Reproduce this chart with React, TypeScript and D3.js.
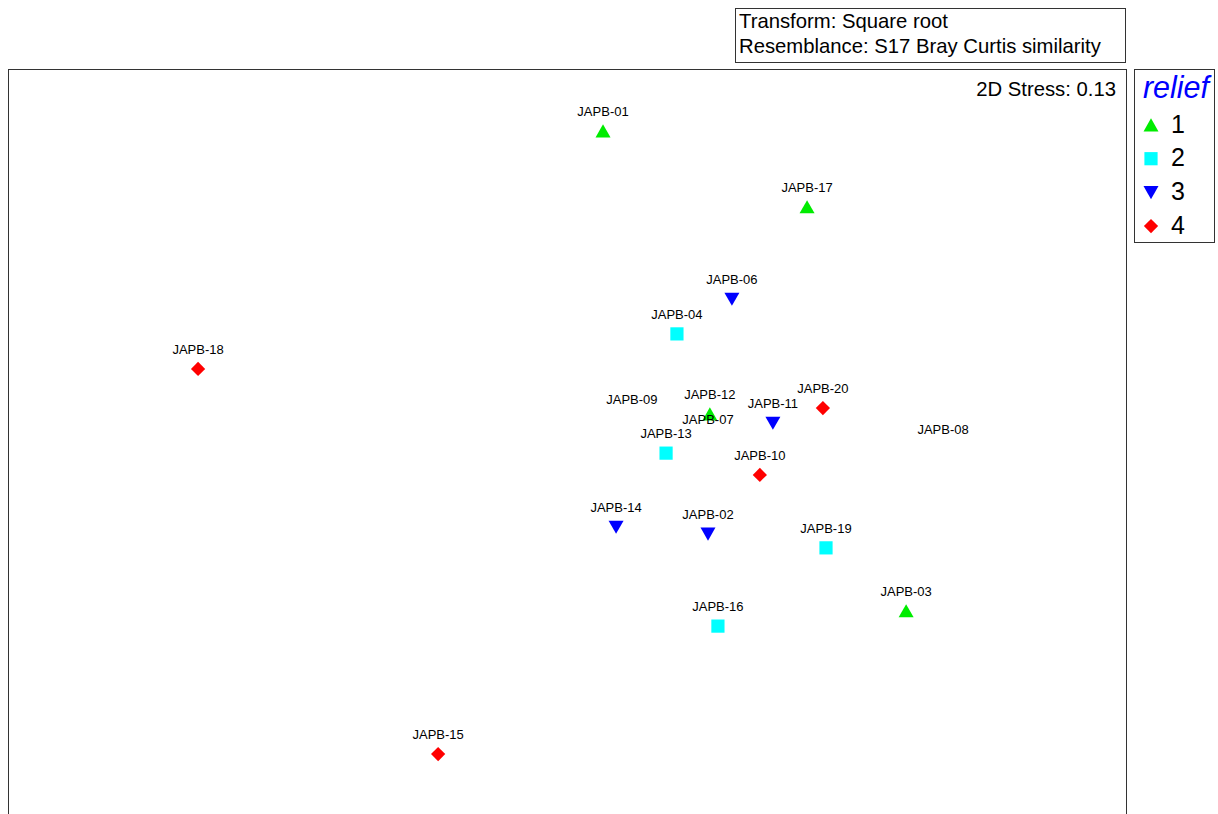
import React from "react";
import * as d3 from "d3";

// nMDS sample ids, coordinates and relief factor (0 = no marker drawn)
const samples = ["JAPB-01", "JAPB-17", "JAPB-06", "JAPB-04", "JAPB-18", "JAPB-12", "JAPB-07", "JAPB-09", "JAPB-11", "JAPB-20", "JAPB-13", "JAPB-10", "JAPB-08", "JAPB-14", "JAPB-02", "JAPB-19", "JAPB-03", "JAPB-16", "JAPB-15"];
const mds1 = [0.116, 0.773, 0.531, 0.354, -1.188, 0.46, 0.454, 0.209, 0.663, 0.824, 0.319, 0.621, 1.211, 0.158, 0.454, 0.834, 1.092, 0.486, -0.415];
const mds2 = [1.0, 0.756, 0.459, 0.347, 0.234, 0.089, 0.009, 0.073, 0.06, 0.108, -0.037, -0.107, -0.024, -0.275, -0.297, -0.342, -0.545, -0.594, -1.006];
const relief = [1, 1, 3, 2, 4, 1, 0, 0, 3, 4, 2, 4, 0, 3, 3, 2, 1, 2, 4];

const levels = [1, 2, 3, 4];
const levelColors = ["#00ec00", "#00ffff", "#0000ff", "#ff0000"];
const infoLines = ["Transform: Square root", "Resemblance: S17 Bray Curtis similarity"];
const stressLabel = "2D Stress: 0.13";
const legendTitle = "relief";

const FONT = "'Liberation Sans', Arial, sans-serif";

function markerPath(level: number, size: number): string {
  const h = size / 2;
  if (level === 1) return `M0,${-h * 0.9}L${h},${h * 0.85}L${-h},${h * 0.85}Z`;
  if (level === 3) return `M0,${h * 0.9}L${h},${-h * 0.85}L${-h},${-h * 0.85}Z`;
  if (level === 2) {
    const s = size * 0.44;
    return `M${-s},${-s}H${s}V${s}H${-s}Z`;
  }
  const d = h * 0.95;
  return `M0,${-d}L${d},0L0,${d}L${-d},0Z`;
}

export default function App() {
  const W = 1218;
  const H = 814;
  const plot = { left: 8, top: 69, right: 1126, bottom: 830 };

  const x = d3.scaleLinear().domain([-1.8, 1.8]).range([plot.left, plot.right]);
  const y = d3.scaleLinear().domain([-1.2, 1.2]).range([814.3, plot.top]);

  const color = d3.scaleOrdinal<number, string>().domain(levels).range(levelColors);

  const pts = samples.map((id, i) => ({ id, x: x(mds1[i]), y: y(mds2[i]), level: relief[i] }));

  return (
    <svg width={W} height={H} style={{ position: "absolute", left: 0, top: 0, background: "#fff" }} fontFamily={FONT}>
      {/* info box */}
      <rect x={735.5} y={8.5} width={390} height={54} fill="none" stroke="#333" strokeWidth={1} />
      {infoLines.map((t, i) => (
        <text key={t} x={739} y={27.5 + i * 25.5} fontSize={20.3} fill="#000">
          {t}
        </text>
      ))}

      {/* plot frame */}
      <rect x={plot.left + 0.5} y={plot.top + 0.5} width={plot.right - plot.left} height={plot.bottom - plot.top} fill="none" stroke="#333" strokeWidth={1} />
      <text x={1116} y={95.5} textAnchor="end" fontSize={20.3} fill="#000">
        {stressLabel}
      </text>

      {/* points */}
      {pts.map((p) => (
        <g key={p.id} transform={`translate(${p.x},${p.y})`}>
          {p.level > 0 && <path d={markerPath(p.level, 15)} fill={color(p.level)} />}
          <text y={-18.5} textAnchor="middle" dominantBaseline="middle" fontSize={13} fill="#000">
            {p.id}
          </text>
        </g>
      ))}

      {/* legend */}
      <rect x={1134.5} y={69.5} width={80} height={173} fill="none" stroke="#333" strokeWidth={1} />
      <text x={1176} y={98} textAnchor="middle" fontSize={30.5} fontStyle="italic" fill="#0000ff">
        {legendTitle}
      </text>
      {levels.map((lv, i) => {
        const cy = 125 + i * 33.7;
        return (
          <g key={lv}>
            <path d={markerPath(lv, 15)} transform={`translate(1151,${cy})`} fill={color(lv)} />
            <text x={1171} y={cy + 1} dominantBaseline="middle" fontSize={25} fill="#000">
              {lv}
            </text>
          </g>
        );
      })}
    </svg>
  );
}
